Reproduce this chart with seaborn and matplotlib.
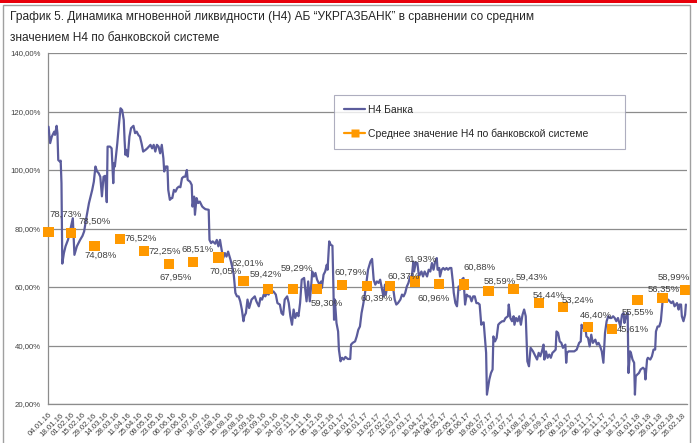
import numpy as np
import pandas as pd
import matplotlib
matplotlib.use("Agg")
import matplotlib.pyplot as plt
import matplotlib.dates as mdates
from matplotlib.lines import Line2D
from matplotlib.patches import Rectangle
import seaborn as sns

sns.set_style("white")
plt.rcParams["font.family"] = ["Liberation Sans", "DejaVu Sans"]

# ---------------- data ----------------
title_lines = ["График 5. Динамика мгновенной ликвидности (Н4) АБ “УКРГАЗБАНК” в сравнении со средним",
               "значением Н4 по банковской системе"]
series_line = "Н4 Банка"
series_avg = "Среднее значение Н4 по банковской системе"

start_date = "2016-01-04"
# days since 04.01.2016
h4_days = [0, 2, 4, 7, 8, 10, 11, 12, 14, 15, 16, 17, 19, 21, 24, 26, 28, 30, 32, 35,
           39, 42, 44, 47, 50, 54, 56, 58, 60, 62, 64, 66, 68, 70, 72, 73, 76, 78, 80, 81,
           82, 85, 87, 89, 91, 93, 94, 95, 96, 98, 100, 102, 105, 107, 109, 111, 113, 115, 117, 120,
           122, 124, 126, 128, 130, 132, 134, 136, 138, 140, 142, 143, 145, 147, 148, 150, 152, 153, 155, 157,
           159, 161, 163, 165, 167, 169, 171, 172, 175, 177, 178, 180, 181, 183, 185, 187, 190, 192, 194, 198,
           199, 201, 203, 206, 208, 210, 212, 214, 216, 218, 220, 222, 225, 227, 229, 231, 233, 235, 237, 239,
           241, 242, 244, 246, 248, 251, 255, 257, 260, 262, 264, 266, 268, 270, 272, 274, 276, 278, 281, 283,
           286, 288, 290, 292, 295, 297, 299, 301, 303, 305, 307, 309, 311, 313, 316, 317, 319, 321, 323, 325,
           326, 328, 330, 332, 335, 337, 338, 340, 342, 344, 345, 347, 349, 351, 352, 353, 354, 356, 358, 359,
           361, 363, 365, 367, 370, 373, 374, 376, 379, 381, 383, 385, 387, 389, 391, 393, 395, 398, 400, 402,
           404, 406, 408, 410, 412, 414, 416, 417, 419, 420, 422, 424, 426, 428, 430, 432, 435, 437, 439, 441,
           443, 445, 447, 449, 451, 452, 454, 456, 458, 461, 463, 465, 468, 470, 472, 474, 476, 478, 480, 481,
           483, 484, 486, 488, 490, 492, 494, 496, 498, 500, 501, 503, 505, 507, 509, 511, 513, 515, 517, 519,
           521, 523, 525, 527, 529, 531, 533, 535, 536, 538, 541, 542, 545, 547, 549, 550, 552, 554, 556, 558,
           561, 563, 565, 568, 569, 571, 573, 575, 576, 578, 580, 582, 584, 586, 588, 590, 592, 594, 596, 599,
           601, 604, 606, 608, 610, 612, 613, 615, 617, 619, 621, 623, 625, 627, 628, 630, 632, 634, 636, 639,
           640, 641, 643, 647, 650, 653, 656, 658, 659, 661, 663, 665, 667, 669, 671, 673, 676, 678, 680, 682,
           684, 686, 688, 690, 692, 694, 696, 698, 700, 702, 704, 707, 709, 711, 712, 714, 716, 717, 719, 720,
           722, 724, 725, 726, 728, 730, 732, 735, 737, 738, 740, 741, 744, 746, 748, 750, 751, 753, 755, 757,
           759, 760, 762, 764, 766, 768, 770, 772, 774, 777, 779, 780, 782, 783, 785, 787, 788]
h4_bank = [114.8, 109.2, 111.4, 113.1, 112.0, 115.1, 112.6, 103.4, 102.9, 103.2, 95.5, 68.0, 71.6, 73.9, 76.1, 78.4, 81.0, 83.5, 71.0, 73.9,
           76.1, 77.5, 79.0, 84.1, 88.7, 93.2, 96.0, 101.2, 99.5, 98.9, 97.7, 91.0, 97.7, 98.0, 89.0, 108.0, 108.0, 107.4, 95.5, 102.3,
           101.2, 109.1, 115.4, 121.1, 120.5, 117.1, 110.3, 105.2, 106.9, 104.6, 111.4, 114.3, 115.1, 112.6, 113.1, 112.0, 111.4, 109.1, 106.3, 106.9,
           107.4, 108.0, 108.6, 107.4, 108.6, 106.3, 108.6, 108.0, 105.7, 108.6, 104.0, 99.5, 101.2, 101.2, 93.2, 89.8, 90.4, 90.4, 93.2, 92.6,
           93.8, 94.3, 94.1, 97.2, 97.7, 97.7, 100.0, 96.6, 96.0, 94.9, 87.5, 90.9, 84.7, 90.4, 88.7, 89.2, 87.5, 87.0, 86.6, 86.4,
           76.1, 75.0, 75.6, 74.8, 76.1, 73.9, 76.1, 72.7, 69.9, 71.6, 70.4, 72.1, 69.3, 67.0, 64.2, 58.0, 56.8, 56.8, 55.1, 52.3,
           48.3, 50.0, 51.1, 55.7, 52.8, 55.7, 56.8, 55.1, 53.4, 56.2, 55.7, 57.4, 56.8, 58.0, 57.4, 58.5, 58.0, 58.5, 57.4, 54.5,
           54.0, 51.1, 50.5, 55.7, 56.8, 54.5, 50.0, 47.1, 52.3, 49.4, 51.1, 50.0, 54.5, 62.5, 63.1, 60.2, 55.1, 61.9, 55.1, 61.4,
           65.3, 63.6, 64.8, 62.5, 60.8, 61.9, 59.7, 64.2, 65.3, 67.6, 65.9, 75.6, 74.4, 74.1, 62.5, 48.8, 55.7, 47.7, 44.8, 38.6,
           34.6, 35.8, 35.2, 36.1, 35.4, 35.4, 40.3, 40.9, 41.4, 43.1, 45.4, 46.5, 51.1, 54.0, 57.4, 61.4, 65.9, 68.7, 69.6, 62.5,
           60.8, 61.9, 61.4, 62.5, 59.7, 56.8, 60.8, 57.4, 60.8, 59.1, 60.8, 59.1, 59.7, 55.7, 54.0, 54.5, 55.7, 57.4, 56.8, 58.0,
           60.2, 61.4, 63.6, 63.1, 68.7, 65.3, 68.4, 68.2, 63.6, 65.3, 63.6, 65.3, 63.6, 65.9, 65.3, 68.2, 65.9, 68.7, 69.9, 65.9,
           66.5, 63.6, 65.9, 66.5, 65.9, 66.5, 65.9, 66.5, 66.5, 61.4, 58.0, 54.5, 53.4, 60.2, 59.1, 62.5, 63.1, 54.0, 57.4, 56.8,
           56.8, 55.1, 56.8, 56.8, 54.5, 54.5, 54.0, 47.1, 47.7, 47.9, 37.5, 23.2, 28.4, 30.6, 31.8, 43.1, 41.4, 42.6, 47.1, 47.7,
           48.3, 48.3, 49.4, 50.0, 54.0, 49.4, 48.3, 50.0, 47.1, 49.4, 48.3, 50.0, 47.1, 50.5, 52.3, 50.0, 34.6, 32.9, 39.2, 38.0,
           36.9, 35.2, 37.5, 36.3, 38.0, 40.3, 35.2, 38.0, 35.8, 36.9, 35.8, 37.5, 38.0, 38.6, 44.8, 44.3, 41.4, 40.9, 39.2, 40.3,
           34.1, 37.5, 38.0, 38.0, 38.0, 38.6, 40.9, 41.4, 47.1, 46.0, 47.7, 43.1, 42.6, 39.7, 43.7, 40.9, 42.0, 40.3, 40.9, 39.7,
           38.0, 34.1, 44.3, 48.3, 50.0, 49.4, 49.4, 50.0, 49.4, 48.3, 49.4, 46.5, 50.5, 51.1, 47.7, 50.0, 51.1, 30.6, 38.0, 37.5,
           35.2, 34.1, 23.2, 29.5, 30.1, 30.6, 31.8, 32.4, 31.8, 28.4, 35.2, 35.8, 35.2, 36.3, 38.6, 38.6, 44.8, 46.5, 46.5, 48.3,
           54.5, 56.8, 56.2, 55.1, 55.7, 55.1, 54.5, 55.1, 53.4, 54.5, 52.3, 54.0, 54.0, 50.0, 48.3, 50.5, 54.0]

avg_dates = ["2016-01-04", "2016-02-01", "2016-03-01", "2016-04-01", "2016-05-01", "2016-06-01",
             "2016-07-01", "2016-08-01", "2016-09-01", "2016-10-01", "2016-11-01", "2016-12-01",
             "2017-01-01", "2017-02-01", "2017-03-01", "2017-04-01", "2017-05-01", "2017-06-01",
             "2017-07-01", "2017-08-01", "2017-09-01", "2017-10-01", "2017-11-01", "2017-12-01",
             "2018-01-01", "2018-02-01", "2018-03-01"]
avg_values = [78.73, 78.50, 74.08, 76.52, 72.25, 67.95, 68.51, 70.05, 62.01, 59.42, 59.29, 59.30,
              60.79, 60.39, 60.37, 61.93, 60.96, 60.88, 58.59, 59.43, 54.44, 53.24, 46.40, 45.61,
              55.55, 56.35, 58.99]
# label offsets (points) relative to each marker
label_dx = [12, 17, 4, 15, 15, 5, 3, 5, 3, -1, 3, 7, 6, 7, 10, 4, -4, 11, 8, 13, 7, 11, 6, 15, 0, 1, -8]
label_dy = [13, 8, -7, 0, 0, -10, 9, -10, 13, 10, 15, -10, 9, -9, 7, 16, -10, 12, 7, 8, 6, 5, 8, 0, -9, 6, 9]

tick_start = "2016-01-04"
tick_end = "2018-02-26"
y_ticks = [20, 40, 60, 80, 100, 120, 140]

# ---------------- figure ----------------
W, H = 697, 443
fig = plt.figure(figsize=(W / 100, H / 100), dpi=100)
fig.patch.set_facecolor("white")

ax = fig.add_axes([48.3 / W, (H - 404) / H, (686.7 - 48.3) / W, (404 - 53) / H])

t0 = pd.Timestamp(start_date)
line_df = pd.DataFrame({"date": t0 + pd.to_timedelta(h4_days, unit="D"), "value": h4_bank})
avg_df = pd.DataFrame({"date": pd.to_datetime(avg_dates), "value": avg_values})

line_color = "#5B5C9C"
orange = "#FF9900"
grid_c = "#8C8C8C"

sns.lineplot(data=line_df, x="date", y="value", ax=ax, color=line_color, lw=1.6, zorder=3)
sns.scatterplot(data=avg_df, x="date", y="value", ax=ax, color=orange, marker="s", s=55,
                edgecolor="none", zorder=4, clip_on=False)

for d, v, dx, dy in zip(avg_df["date"], avg_values, label_dx, label_dy):
    ax.annotate(f"{v:.2f}%".replace(".", ","), (d, v), xytext=(dx, dy), textcoords="offset points",
                ha="center", va="center", fontsize=6.8, color="#404040", zorder=5)

ax.set_ylim(20, 140)
ax.set_yticks(y_ticks)
ax.set_yticklabels([f"{t:.2f}%".replace(".", ",") for t in y_ticks])
ax.set_xlim(t0 - pd.Timedelta(days=0.3), t0 + pd.Timedelta(days=789))
xt = pd.date_range(tick_start, tick_end, freq="14D")
ax.set_xticks(xt)
ax.set_xticklabels([d.strftime("%d.%m.%y") for d in xt], rotation=45, ha="right",
                   rotation_mode="anchor")
ax.set_xlabel("")
ax.set_ylabel("")

ax.grid(axis="y", color=grid_c, lw=0.9)
ax.grid(axis="x", visible=False)
for s in ["top", "right"]:
    ax.spines[s].set_visible(False)
for s in ["left", "bottom"]:
    ax.spines[s].set_color(grid_c)
    ax.spines[s].set_linewidth(0.9)
ax.tick_params(axis="both", direction="out", length=4, width=0.8, color=grid_c,
               labelsize=5.6, labelcolor="#404040", pad=1.5)

handles = [Line2D([], [], color=line_color, lw=1.6),
           Line2D([], [], color=orange, lw=1.6, marker="s", markersize=6, markeredgecolor="none")]
leg = ax.legend(handles, [series_line, series_avg], loc="upper left",
                bbox_to_anchor=((334 - 48.3) / 638.4, (404 - 95) / 351, (625 - 334) / 638.4, 0.001),
                mode="expand", borderaxespad=0, fontsize=7.5, frameon=True, fancybox=False,
                labelspacing=1.3, handlelength=2.0, handletextpad=0.3, borderpad=1.0)
leg.get_frame().set_edgecolor("#9A9AB0")
leg.get_frame().set_linewidth(0.8)
leg.set_zorder(6)
for t in leg.get_texts():
    t.set_color("#262626")

# title
fig.text(10 / W, 1 - 17 / H, title_lines[0], fontsize=8.6, color="#262626", va="center", ha="left")
fig.text(10 / W, 1 - 38 / H, title_lines[1], fontsize=8.6, color="#262626", va="center", ha="left")

# frame and top bar
fig.patches.append(Rectangle((0, 1 - 3 / H), 1, 3 / H, transform=fig.transFigure,
                             facecolor="#E8000B", edgecolor="none", zorder=10))
fig.patches.append(Rectangle((3 / W, -0.01), (690 - 3) / W, 1 - 5 / H + 0.01, transform=fig.transFigure,
                             facecolor="none", edgecolor="#A0A0A0", lw=1.0, zorder=10))

fig.savefig("out.png", dpi=100)
